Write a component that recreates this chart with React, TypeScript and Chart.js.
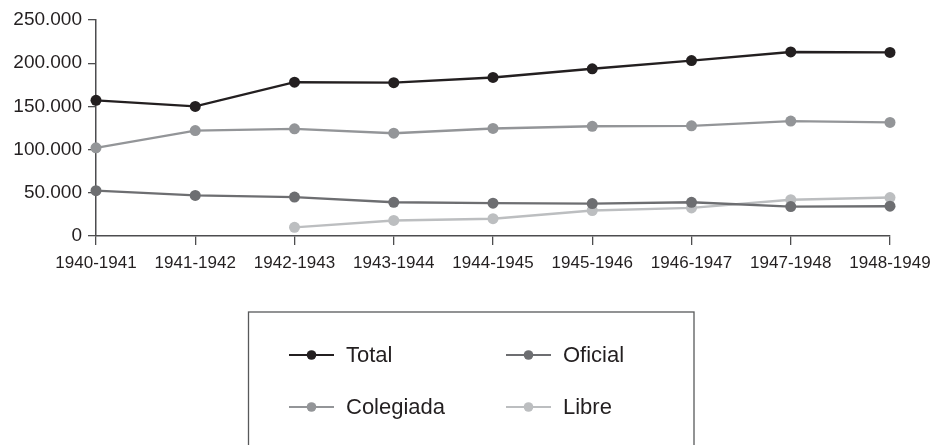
import React, { useEffect, useRef } from "react";
import { Chart, registerables } from "chart.js";

Chart.register(...registerables);

const categories = [
  "1940-1941", "1941-1942", "1942-1943", "1943-1944", "1944-1945",
  "1945-1946", "1946-1947", "1947-1948", "1948-1949",
];
const total = [157000, 150000, 178000, 177500, 183500, 193500, 203000, 213000, 212500];
const oficial = [52500, 47000, 45000, 39000, 38000, 37500, 39000, 34000, 34500];
const colegiada = [102000, 122000, 124000, 119000, 124500, 127000, 127500, 133000, 131500];
const libre = [null, null, 10000, 18000, 20000, 29500, 32500, 42000, 44500];
const seriesNames = ["Total", "Oficial", "Colegiada", "Libre"];
const seriesColors = ["#231f20", "#6d6e71", "#939598", "#bcbec0"];

const FONT = "'Liberation Sans', Arial, Helvetica, sans-serif";

function fmt(v: number) {
  return String(v).replace(/\B(?=(\d{3})+(?!\d))/g, ".");
}

const legendPlugin = {
  id: "boxLegend",
  afterDraw(chart: any) {
    const ctx = chart.ctx;
    ctx.save();
    ctx.strokeStyle = "#58595b";
    ctx.lineWidth = 1.3;
    ctx.strokeRect(248.5, 312, 445.5, 200);
    const cols = [289, 506];
    const rows = [355, 407];
    chart.data.datasets.forEach((ds: any, i: number) => {
      const x = cols[i % 2];
      const y = rows[Math.floor(i / 2)];
      ctx.strokeStyle = ds.borderColor;
      ctx.lineWidth = 2.2;
      ctx.beginPath();
      ctx.moveTo(x, y);
      ctx.lineTo(x + 45, y);
      ctx.stroke();
      ctx.fillStyle = ds.borderColor;
      ctx.beginPath();
      ctx.arc(x + 22.5, y, 4.8, 0, Math.PI * 2);
      ctx.fill();
      ctx.fillStyle = "#231f20";
      ctx.font = `22px ${FONT}`;
      ctx.textBaseline = "middle";
      ctx.textAlign = "left";
      ctx.fillText(ds.label, x + 57, y + 1);
    });
    ctx.restore();
  },
};

export default function App() {
  const ref = useRef<HTMLCanvasElement>(null);
  useEffect(() => {
    if (!ref.current) return;
    const data = [total, oficial, colegiada, libre];
    const chart = new Chart(ref.current, {
      type: "line",
      data: {
        labels: categories,
        datasets: data.map((d, i) => ({
          label: seriesNames[i],
          data: d as any,
          borderColor: seriesColors[i],
          backgroundColor: seriesColors[i],
          pointBackgroundColor: seriesColors[i],
          pointBorderColor: seriesColors[i],
          pointRadius: 5.5,
          pointBorderWidth: 0,
          borderWidth: 2.4,
          tension: 0,
          clip: false as any,
          spanGaps: false,
        })),
      },
      options: {
        animation: false,
        responsive: false,
        devicePixelRatio: 1,
        layout: { padding: { left: 0, top: 20, right: 44, bottom: 169 } },
        plugins: {
          legend: { display: false },
          tooltip: { enabled: false },
        },
        scales: {
          x: {
            offset: false,
            afterFit: (s: any) => {
              s.height = 40;
              s.paddingLeft = 0;
              s.paddingRight = 0;
            },
            grid: {
              display: true,
              drawOnChartArea: false,
              drawTicks: true,
              tickLength: 9,
              color: "#4d4d4f",
              lineWidth: 1.3,
            },
            border: { display: true, color: "#4d4d4f", width: 1.5 },
            ticks: {
              color: "#231f20",
              font: { family: FONT, size: 17 },
              padding: 8,
              maxRotation: 0,
              autoSkip: false,
            },
          },
          y: {
            min: 0,
            max: 250000,
            afterFit: (s: any) => {
              s.width = 96;
              s.paddingTop = 0;
              s.paddingBottom = 0;
            },
            grid: {
              display: true,
              drawOnChartArea: false,
              drawTicks: true,
              tickLength: 8,
              color: "#4d4d4f",
              lineWidth: 1.3,
            },
            border: { display: true, color: "#4d4d4f", width: 1.5 },
            ticks: {
              stepSize: 50000,
              color: "#231f20",
              font: { family: FONT, size: 19 },
              padding: 6,
              callback: (v: any) => fmt(Number(v)),
            },
          },
        },
      },
      plugins: [legendPlugin],
    });
    return () => chart.destroy();
  }, []);
  return (
    <div style={{ position: "absolute", left: 0, top: 0, width: 934, height: 445, background: "#fff" }}>
      <canvas ref={ref} width={934} height={445} style={{ width: 934, height: 445 }} />
    </div>
  );
}
